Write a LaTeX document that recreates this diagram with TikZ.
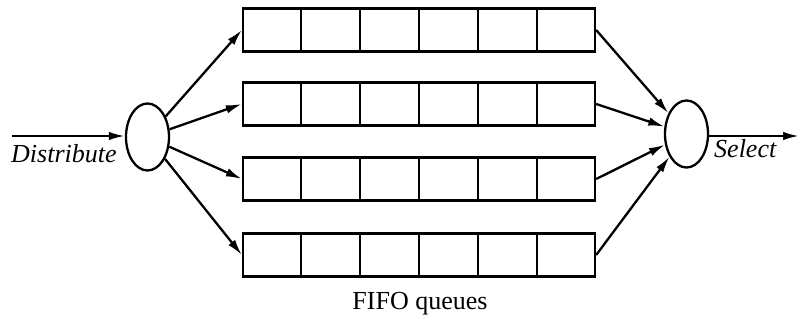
\documentclass[tikz,border=0pt]{standalone}
\usepackage{fontspec}
\setmainfont{Liberation Serif}
\usetikzlibrary{arrows.meta,shapes.geometric,calc}
\begin{document}
\begin{tikzpicture}[x=1pt,y=-1pt,
  ln/.style={line width=2.3pt},
  arr/.style={ln,-{Latex[length=16pt,width=8.5pt]}},
  disc/.style={ellipse,draw,line width=2.3pt,minimum width=43pt,minimum height=67pt,inner sep=0pt},
  queue/.style={draw,line width=2.3pt,minimum width=352pt,minimum height=43pt,inner sep=0pt},
  lbl/.style={font=\fontsize{26}{30}\selectfont,inner sep=0pt}]
\useasboundingbox (0,0) rectangle (800,320);
\node[disc] (L) at (147.5,137) {};
\node[disc] (R) at (686.5,134) {};
\foreach \i/\y in {1/30,2/104,3/179,4/255}{
  \node[queue] (q\i) at (419,\y) {};
  \foreach \k in {1,...,5}{
    \draw[ln] ($(q\i.north west)!\k/6!(q\i.north east)$) -- ($(q\i.south west)!\k/6!(q\i.south east)$);
  }
  \draw[arr] (L) -- (q\i.west);
  \draw[arr] (q\i.east) -- (R);
}
\coordinate (in) at (12,136);
\coordinate (out) at (799,136);
\draw[arr] (in) -- (L.west |- in);
\draw[arr] (R.east |- out) -- (out);
\node[lbl,anchor=base west] (d) at (11,163) {\itshape Distribute};
\node[lbl,anchor=base west] (s) at (714,158) {\itshape Select};
\node[lbl,anchor=base] (f) at (420,309) {FIFO queues};
\end{tikzpicture}
\end{document}
